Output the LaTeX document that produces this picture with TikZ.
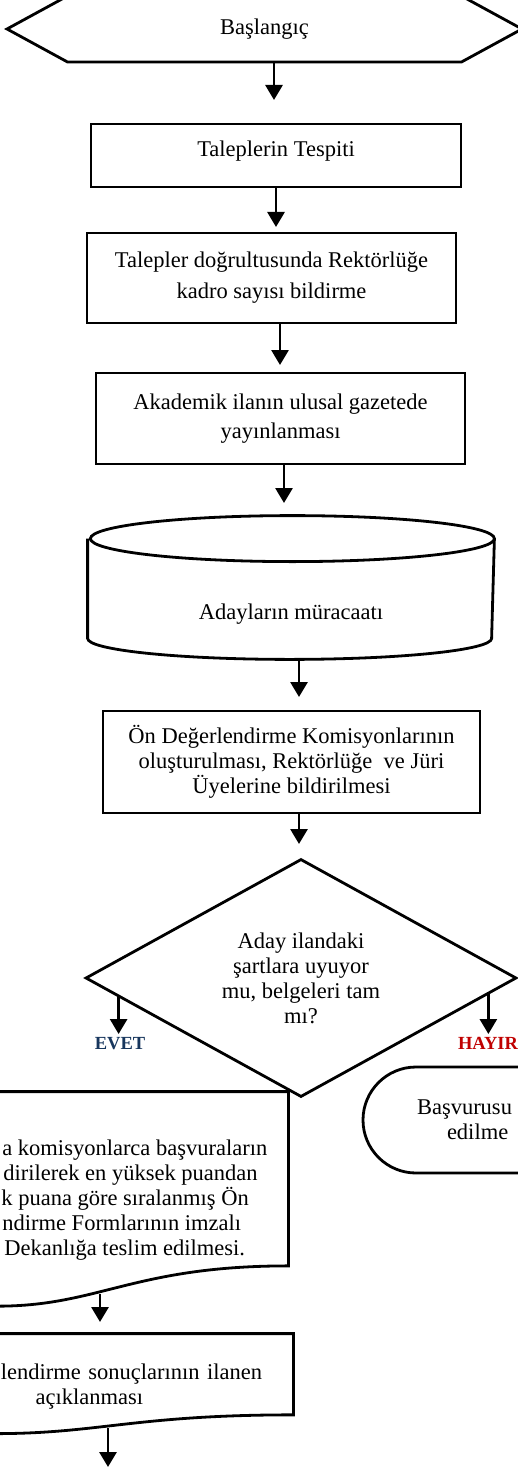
\documentclass[tikz,border=0pt]{standalone}
\usepackage{fontspec}
\setmainfont{Liberation Serif}
\usetikzlibrary{calc}
\usetikzlibrary{arrows.meta}
\usetikzlibrary{shapes.geometric, shapes.symbols, shapes.misc}

\definecolor{evetblue}{HTML}{17365D}
\definecolor{hayirred}{HTML}{C00000}

\newcommand{\docoutline}[1]{%
  \draw (#1.north west) -- (#1.north east) -- ($(#1.north east)!0.802!(#1.south east)$)
    .. controls ($(#1.north)!0.802!(#1.south)$) and ($(#1.north)!1.1075!(#1.south)$)
    .. coordinate[pos=0.5] (#1 wave) ($(#1.north west)!0.934!(#1.south west)$) -- cycle;}

\begin{document}
\begin{tikzpicture}[x=1pt, y=1pt, line width=2.8pt,
  font=\fontsize{22.5}{25}\selectfont,
  box/.style={draw, rectangle, inner sep=0, align=center},
  arr/.style={-{Triangle[width=17pt, length=15pt]}},
  lbl/.style={font=\fontsize{18.5}{22}\selectfont\bfseries, inner sep=2pt, anchor=north}]

\useasboundingbox (0,0) rectangle (518,-1471);
\clip (0,0) rectangle (518,-1471);

\node (start) [draw, signal, signal to=west and east, signal pointer angle=57.2,
  minimum width=515pt, minimum height=66pt, inner sep=0] at (264.5,-29) {Başlangıç};

\node (need) [box, minimum width=370pt, minimum height=63pt, text depth=13pt] at (276,-155.5) {Taleplerin Tespiti};
\node (quota) [box, minimum width=369pt, minimum height=90pt] at (271.5,-278) {Talepler doğrultusunda Rektörlüğe\\[6pt]kadro sayısı bildirme};
\node (advert) [box, minimum width=369pt, minimum height=91pt] at (280.5,-418.5) {Akademik ilanın ulusal gazetede\\[4pt]yayınlanması};

\node (apply) [minimum width=404pt, minimum height=141pt, inner sep=0] at (291,-587.5) {};
\draw ([yshift=-23pt]apply.north west) -- ([yshift=21pt]apply.south west)
  arc[start angle=180, end angle=360, x radius=202pt, y radius=21pt]
  -- ([yshift=-23pt]apply.north east)
  arc[start angle=0, end angle=360, x radius=202pt, y radius=23pt];
\node (applytext) at (291,-614) {Adayların müracaatı};

\node (commission) [box, minimum width=377pt, minimum height=102pt] at (291.5,-762) {Ön Değerlendirme Komisyonlarının\\oluşturulması, Rektörlüğe~ ve Jüri\\Üyelerine bildirilmesi};

\node (check) [draw, diamond, aspect=1.81, minimum width=431pt, minimum height=238pt, inner sep=0, align=center] at (301,-978) {Aday ilandaki\\şartlara uyuyor\\mu, belgeleri tam\\mı?};

\node (yes) [lbl, text=evetblue] at (120,-1034) {EVET};
\node (no) [lbl, text=hayirred] at (488,-1034) {HAYIR};

\node (reject) [draw, rounded rectangle, minimum width=264pt, minimum height=106pt, inner sep=0,
  text width=156pt, align=left] at (495,-1120) {Başvurusu\\\noindent\kern30pt edilme};

\node (review) [minimum width=395pt, minimum height=214.5pt, inner sep=0] at (89.5,-1200.25) {};
\docoutline{review}
\node (reviewtext) [anchor=west, align=left, inner sep=0] at (-5,-1200)
  {\kern6pt a komisyonlarca başvuraların\\\kern7pt dirilerek en yüksek puandan\\\kern5pt k puana göre sıralanmış Ön\\\kern6pt ndirme Formlarının imzalı\\\kern8pt Dekanlığa teslim edilmesi.};

\node (result) [minimum width=405pt, minimum height=98.5pt, inner sep=0, text width=345pt, align=right, text depth=25pt] at (89.5,-1384.25)
  {lendirme sonuçlarının ilanen\\açıklanması\kern119pt};
\docoutline{result}

\coordinate (t1) at (274,-100);
\coordinate (t2) at (276,-227);
\coordinate (t3) at (280,-365);
\coordinate (t4) at (284,-503);
\coordinate (t5) at (299,-697);
\coordinate (t6) at (299,-844);
\coordinate (t7) at (100,-1322);
\coordinate (t8) at (108,-1467);

\draw[arr] (start.south -| t1) -- (t1);
\draw[arr] (need.south -| t2) -- (t2);
\draw[arr] (quota.south -| t3) -- (t3);
\draw[arr] (advert.south -| t4) -- (t4);
\draw[arr] (apply.south -| t5) -- (t5);
\draw[arr] (commission.south -| t6) -- (t6);
\draw[arr] (check.186) -- (check.186 |- yes.north);
\draw[arr] (check.355) -- (check.355 |- no.north);
\draw[arr] (review wave -| t7) -- (t7);
\draw[arr] (result wave -| t8) -- (t8);

\end{tikzpicture}
\end{document}
